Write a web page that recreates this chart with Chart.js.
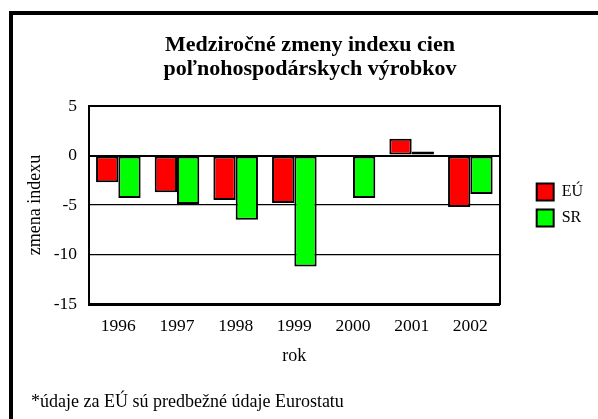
<!DOCTYPE html>
<html>
<head>
<meta charset="utf-8">
<script src="https://cdn.jsdelivr.net/npm/chart.js@4/dist/chart.umd.min.js"></script>
<style>
html, body { margin: 0; padding: 0; background: #fff; overflow: hidden; }
#wrap { position: relative; width: 598px; height: 419px; overflow: hidden; }
#frame { position: absolute; left: 9px; top: 11px; width: 700px; height: 500px;
  border-left: 4px solid #000; border-top: 4px solid #000; pointer-events: none; }
#note { position: absolute; left: 31px; top: 392px; font-family: 'Liberation Serif', 'Times New Roman', serif;
  font-size: 18px; line-height: 18px; color: #000; white-space: nowrap; }
</style>
</head>
<body>
<div id="wrap">
  <canvas id="c" width="598" height="419"></canvas>
  <div id="frame"></div>
  <div id="note"></div>
</div>
<script>
const categories = ['1996', '1997', '1998', '1999', '2000', '2001', '2002'];
const euValues = [-2.7, -3.7, -4.5, -4.8, null, 1.7, -5.2];
const srValues = [-4.3, -4.9, -6.5, -11.2, -4.3, 0.4, -3.9];
const yTicks = [-15, -10, -5, 0, 5];
const seriesNames = ['EÚ', 'SR'];
const titleLines = ['Medziročné zmeny indexu cien', 'poľnohospodárskych výrobkov'];
const xTitle = 'rok';
const yTitle = 'zmena indexu';
const footnote = '*údaje za EÚ sú predbežné údaje Eurostatu';

document.getElementById('note').textContent = footnote;

const FAM = "'Liberation Serif', 'Times New Roman', serif";

new Chart(document.getElementById('c'), {
  type: 'bar',
  data: {
    labels: categories,
    datasets: [
      { label: seriesNames[0], data: euValues, backgroundColor: '#ff0000', borderColor: '#000000',
        borderWidth: 2, borderSkipped: false, categoryPercentage: 0.76, barPercentage: 1.0, yAxisID: 'y' },
      { label: seriesNames[1], data: srValues, backgroundColor: '#00ff00', borderColor: '#000000',
        borderWidth: 2, borderSkipped: false, categoryPercentage: 0.76, barPercentage: 1.0, yAxisID: 'y' }
    ]
  },
  options: {
    responsive: false,
    animation: false,
    events: [],
    layout: { padding: { left: 27, right: 5, top: 20, bottom: 40 } },
    scales: {
      x: {
        afterFit: s => { s.height = 75; },
        grid: { display: false, drawTicks: false },
        border: { display: true, color: '#000', width: 3 },
        ticks: { color: '#000', font: { family: FAM, size: 17.5 }, padding: 11.6, maxRotation: 0, autoSkip: false },
        title: { display: true, text: xTitle, color: '#000', font: { family: FAM, size: 18 }, padding: { top: 0, bottom: 12.3 } }
      },
      y: {
        min: -15, max: 5,
        afterBuildTicks: s => { s.ticks = yTicks.map(v => ({ value: v })); },
        afterFit: s => { s.width = 62; },
        grid: {
          color: '#000',
          drawTicks: false,
          lineWidth: c => {
            if (!c.tick) return 1.3;
            const v = c.tick.value;
            if (v === -15) return 0;
            if (v === 0 || v === 5) return 2;
            return 1.3;
          }
        },
        border: { display: true, color: '#000', width: 2 },
        ticks: { color: '#000', font: { family: FAM, size: 17.5 }, padding: 12 },
        title: { display: true, text: yTitle, color: '#000', font: { family: FAM, size: 18 }, padding: { top: -2.8, bottom: 0 } }
      },
      y2: {
        type: 'linear',
        position: 'right',
        display: true,
        afterFit: s => { s.width = 28; },
        grid: { display: false, drawTicks: false },
        ticks: { display: false },
        border: { display: true, color: '#000', width: 2 }
      }
    },
    plugins: {
      tooltip: { enabled: false },
      title: {
        display: true,
        text: titleLines,
        color: '#000',
        font: { family: FAM, size: 22, weight: 'bold', lineHeight: 1.1 },
        padding: { top: 13.5, bottom: 24.1 }
      },
      legend: {
        position: 'right',
        align: 'center',
        fullSize: false,
        labels: { boxWidth: 17, boxHeight: 17, padding: 9, color: '#000', font: { family: FAM, size: 16 } }
      }
    }
  }
});
</script>
</body>
</html>
